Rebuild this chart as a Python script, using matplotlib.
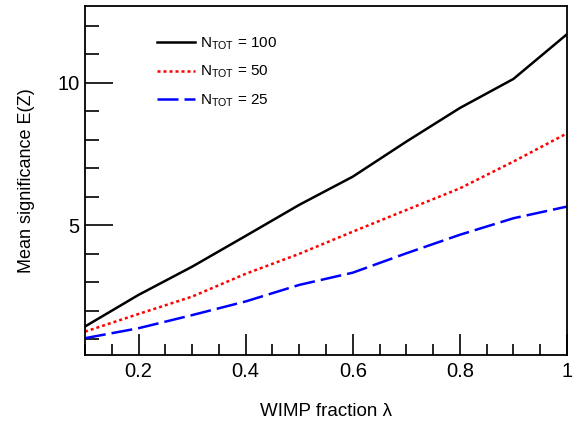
import matplotlib
matplotlib.use("Agg")
import matplotlib.pyplot as plt
from matplotlib.ticker import MultipleLocator

plt.rcParams['font.family'] = ['Liberation Sans', 'DejaVu Sans']
plt.rcParams['mathtext.fontset'] = 'custom'
plt.rcParams['mathtext.rm'] = 'Liberation Sans'
plt.rcParams['mathtext.it'] = 'Liberation Sans:italic'

# WIMP fraction and mean significance for each total event count
wimp_fraction = [0.1, 0.2, 0.3, 0.4, 0.5, 0.6, 0.7, 0.8, 0.9, 1.0]
ez_ntot100 = [1.45, 2.56, 3.55, 4.63, 5.72, 6.71, 7.94, 9.12, 10.14, 11.71]
ez_ntot50 = [1.27, 1.89, 2.50, 3.30, 4.00, 4.78, 5.54, 6.30, 7.24, 8.23]
ez_ntot25 = [1.04, 1.39, 1.85, 2.33, 2.91, 3.34, 4.02, 4.67, 5.25, 5.66]
series_labels = [r'N$_{\rm TOT}$ = 100', r'N$_{\rm TOT}$ = 50', r'N$_{\rm TOT}$ = 25']

fig = plt.figure(figsize=(5.77, 4.24), dpi=100)
ax = fig.add_axes([85 / 577, 1 - 355 / 424, (567 - 85) / 577, (355 - 6) / 424])

lw = 1.8
ax.plot(wimp_fraction, ez_ntot100, color='black', lw=lw, label=series_labels[0])
ax.plot(wimp_fraction, ez_ntot50, color='#ff0000', lw=lw, linestyle=(0, (1.2, 1.2)),
        label=series_labels[1])
ax.plot(wimp_fraction, ez_ntot25, color='#0000ff', lw=lw, linestyle=(0, (8.4, 2.4)),
        label=series_labels[2])

ax.set_xlim(0.1, 1.0)
ax.set_ylim(0.45, 12.7)

ax.xaxis.set_major_locator(MultipleLocator(0.2))
ax.xaxis.set_minor_locator(MultipleLocator(0.05))
ax.yaxis.set_major_locator(MultipleLocator(5))
ax.yaxis.set_minor_locator(MultipleLocator(1))
ax.set_xticks([0.2, 0.4, 0.6, 0.8, 1.0])
ax.set_xticklabels(['0.2', '0.4', '0.6', '0.8', '1'])

ax.tick_params(axis='both', which='both', direction='in', top=False, right=False,
               width=1.2, labelsize=14.5)
ax.tick_params(axis='x', which='major', length=15, pad=5)
ax.tick_params(axis='x', which='minor', length=8)
ax.tick_params(axis='y', which='major', length=20, pad=4)
ax.tick_params(axis='y', which='minor', length=10)
for s in ax.spines.values():
    s.set_linewidth(1.3)

ax.set_xlabel('WIMP fraction \u03bb', fontsize=13.5, labelpad=16)
ax.set_ylabel('Mean significance E(Z)', fontsize=13, labelpad=16)

ax.legend(loc='upper left', bbox_to_anchor=(0.12, 0.955), frameon=False,
          fontsize=11, handlelength=2.5, handletextpad=0.35, labelspacing=0.8)

fig.savefig('out.png', dpi=100)
